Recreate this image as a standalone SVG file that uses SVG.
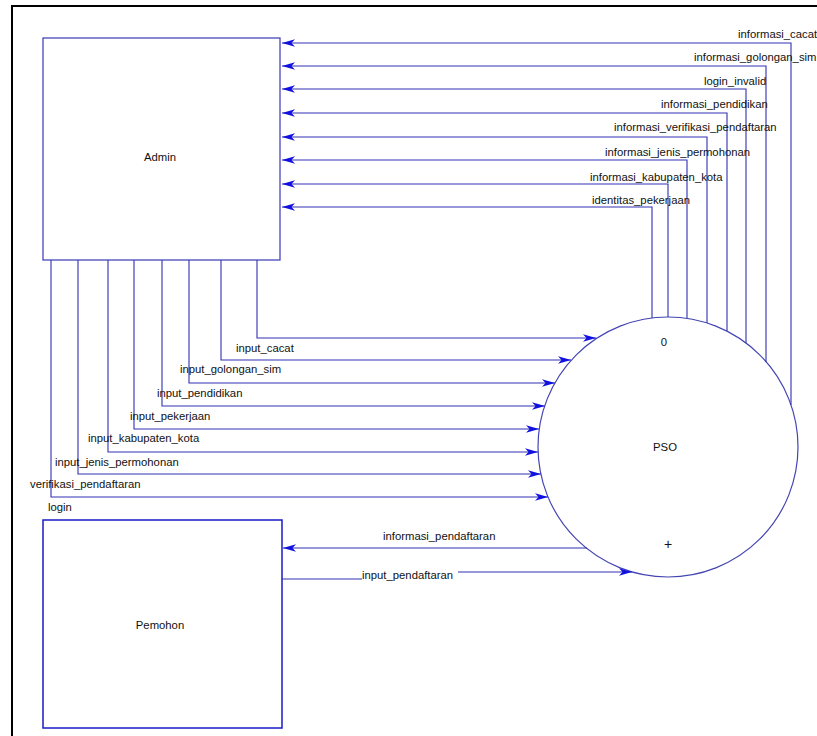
<svg xmlns="http://www.w3.org/2000/svg" width="817" height="736" viewBox="0 0 817 736">
<defs>
<style>
.t{font-family:"Liberation Sans",Arial,sans-serif;font-size:11.3px;fill:#111}
.c{text-anchor:middle}
.ln{fill:none;stroke:#3030b4;stroke-width:1.1}
</style>
<marker id="ah" markerUnits="userSpaceOnUse" markerWidth="14" markerHeight="10" refX="13" refY="5" orient="auto">
<path d="M0,1.2 L13,5 L0,8.8 L3.5,5 Z" fill="#1010e0"/>
</marker>
</defs>
<rect x="0" y="0" width="817" height="736" fill="#fff"/>
<rect x="12" y="6" width="830" height="760" fill="none" stroke="#000" stroke-width="2"/>

<g id="admin">
<rect x="43" y="38" width="237" height="222" fill="#fff" stroke="#3838b8" stroke-width="1.2"/>
<text class="t c" x="160" y="161">Admin</text>
</g>
<g id="pemohon">
<rect x="43" y="520" width="239" height="208" fill="#fff" stroke="#1a1ac8" stroke-width="1.5"/>
<text class="t c" x="160" y="629">Pemohon</text>
</g>
<g id="pso">
<circle cx="668" cy="447" r="130" fill="#fff" stroke="#4444b4" stroke-width="1.2"/>
<text class="t c" x="664" y="346">0</text>
<text class="t c" x="665" y="451">PSO</text>
<text class="t c" x="668" y="549" style="font-size:14px">+</text>
</g>

<g id="connectors">
<path class="ln" d="M791,405 V43 H282" marker-end="url(#ah)"/>
<path class="ln" d="M766,362 V66 H282" marker-end="url(#ah)"/>
<path class="ln" d="M746,343 V89 H282" marker-end="url(#ah)"/>
<path class="ln" d="M727,331 V113 H282" marker-end="url(#ah)"/>
<path class="ln" d="M707,323 V137 H282" marker-end="url(#ah)"/>
<path class="ln" d="M687,318 V160 H282" marker-end="url(#ah)"/>
<path class="ln" d="M668,317 V184 H282" marker-end="url(#ah)"/>
<path class="ln" d="M652,318 V207 H282" marker-end="url(#ah)"/>
<path class="ln" d="M257,260 V338 H596" marker-end="url(#ah)"/>
<path class="ln" d="M221,260 V360 H571" marker-end="url(#ah)"/>
<path class="ln" d="M189,260 V383 H555" marker-end="url(#ah)"/>
<path class="ln" d="M162,260 V406 H545" marker-end="url(#ah)"/>
<path class="ln" d="M134,260 V429 H539" marker-end="url(#ah)"/>
<path class="ln" d="M108,260 V452 H538" marker-end="url(#ah)"/>
<path class="ln" d="M78,260 V474 H541" marker-end="url(#ah)"/>
<path class="ln" d="M51,260 V497 H548" marker-end="url(#ah)"/>
<path class="ln" d="M587,548 H283" marker-end="url(#ah)"/>
<path class="ln" d="M282,579 H362"/>
<path class="ln" d="M458,572 H632" marker-end="url(#ah)"/>

<text class="t" x="738" y="38">informasi_cacat</text>
<text class="t" x="694" y="61">informasi_golongan_sim</text>
<text class="t" x="704" y="85">login_invalid</text>
<text class="t" x="661" y="108">informasi_pendidikan</text>
<text class="t" x="614" y="131">informasi_verifikasi_pendaftaran</text>
<text class="t" x="605" y="156">informasi_jenis_permohonan</text>
<text class="t" x="590" y="181">informasi_kabupaten_kota</text>
<text class="t" x="592" y="204">identitas_pekerjaan</text>

<text class="t" x="236" y="352">input_cacat</text>
<text class="t" x="180" y="373">input_golongan_sim</text>
<text class="t" x="157" y="397">input_pendidikan</text>
<text class="t" x="130" y="420">input_pekerjaan</text>
<text class="t" x="88" y="442">input_kabupaten_kota</text>
<text class="t" x="55" y="466">input_jenis_permohonan</text>
<text class="t" x="30" y="488">verifikasi_pendaftaran</text>
<text class="t" x="48" y="511">login</text>

<text class="t" x="383" y="540">informasi_pendaftaran</text>
<text class="t" x="362" y="579">input_pendaftaran</text>
</g>
</svg>
